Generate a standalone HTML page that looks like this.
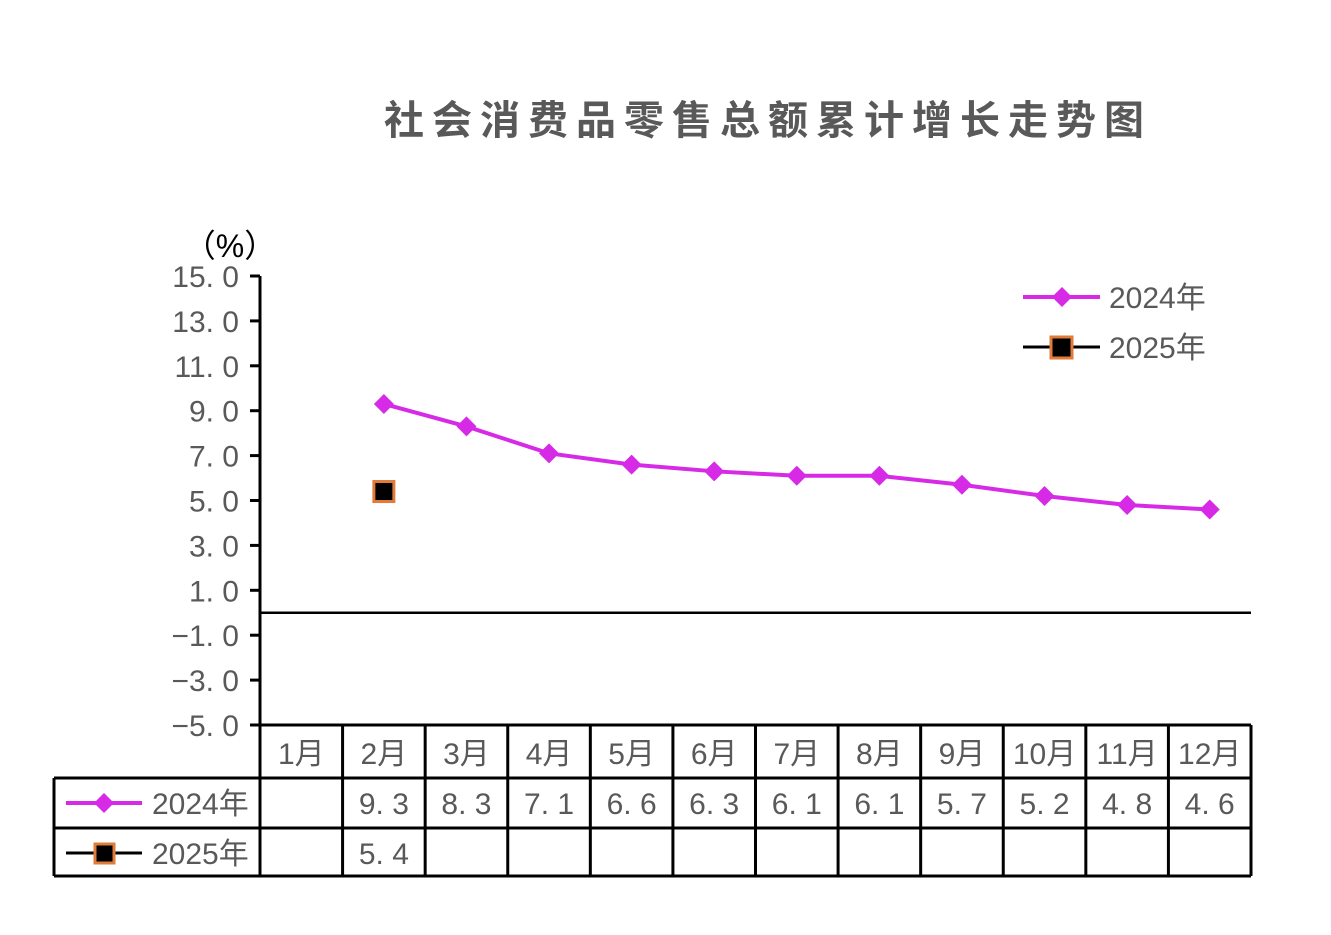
<!DOCTYPE html>
<html><head><meta charset="utf-8"><style>
html,body{margin:0;padding:0;background:#fff;}
svg{display:block;font-family:"Liberation Sans","Noto Sans CJK SC",sans-serif;}
</style></head><body>
<svg id="c" width="1331" height="935" xmlns="http://www.w3.org/2000/svg">
<text x="768" y="134" text-anchor="middle" font-size="40" font-weight="bold" fill="#595959" letter-spacing="8">社会消费品零售总额累计增长走势图</text>
<text x="230" y="257" text-anchor="middle" font-size="32" fill="#000">（%）</text>
<g id="axes"></g><g id="marks"></g><g id="table"></g>
<g>
<line x1="1023" y1="297" x2="1100" y2="297" stroke="#d62ae6" stroke-width="4"/>
<polygon points="1062,287 1072,297 1062,307 1052,297" fill="#d62ae6"/>
<text x="1109" y="308" font-size="30" fill="#595959">2024年</text>
<line x1="1023" y1="347" x2="1100" y2="347" stroke="#000" stroke-width="3"/>
<rect x="1051" y="337" width="21" height="21" fill="#000" stroke="#e07b39" stroke-width="3"/>
<text x="1109" y="358" font-size="30" fill="#595959">2025年</text>
</g>
</svg>
<script>
const months=["1月","2月","3月","4月","5月","6月","7月","8月","9月","10月","11月","12月"];
const s2024=[null,9.3,8.3,7.1,6.6,6.3,6.1,6.1,5.7,5.2,4.8,4.6];
const s2025=[null,5.4,null,null,null,null,null,null,null,null,null,null];
const yTicks=[15,13,11,9,7,5,3,1,-1,-3,-5];
const NS="http://www.w3.org/2000/svg";
const L=260,R=1251,T=276,B=725,yMin=-5,yMax=15;
const cw=(R-L)/months.length;
function x(i){return L+cw*(i+0.5);}
function y(v){return B-(v-yMin)/(yMax-yMin)*(B-T);}
function mk(t,a,p){const e=document.createElementNS(NS,t);for(const k in a)e.setAttribute(k,a[k]);p.appendChild(e);return e;}
function fmt(v){return v.toFixed(1).replace('-','−').replace('.','. ');}
const ax=document.getElementById('axes');
let e=mk('line',{x1:L,y1:T,x2:L,y2:B,stroke:'#000','stroke-width':3},ax);


yTicks.forEach(v=>{
 let t=mk('line',{x1:L-10,y1:y(v),x2:L,y2:y(v),stroke:'#000','stroke-width':3},ax);
 
 
 let l=mk('text',{x:L-21,y:y(v)+11,'text-anchor':'end','font-size':30,fill:'#595959'},ax);
 l.textContent=fmt(v);
 
 
});
e=mk('line',{x1:L,y1:y(0),x2:R,y2:y(0),stroke:'#000','stroke-width':2.5},ax);


const mg=document.getElementById('marks');
let pts=[];s2024.forEach((v,i)=>{if(v!==null)pts.push(x(i)+','+y(v));});
e=mk('polyline',{points:pts.join(' '),fill:'none',stroke:'#d62ae6','stroke-width':4},mg);


s2024.forEach((v,i)=>{if(v===null)return;const cx=x(i),cy=y(v);
 let p=mk('polygon',{points:`${cx},${cy-10} ${cx+10},${cy} ${cx},${cy+10} ${cx-10},${cy}`,fill:'#d62ae6'},mg);
 
 });
s2025.forEach((v,i)=>{if(v===null)return;const cx=x(i),cy=y(v);
 let p=mk('rect',{x:cx-10,y:cy-10,width:20,height:20,fill:'#000',stroke:'#e07b39','stroke-width':3},mg);
 
 });
const tg=document.getElementById('table');
const rows=[725,778,828,876],TL=54;
function ln(x1,y1,x2,y2){let l=mk('line',{x1,y1,x2,y2,stroke:'#000','stroke-width':3},tg);
 
 }
ln(L,rows[0],R,rows[0]);
ln(TL,rows[1],R,rows[1]);ln(TL,rows[2],R,rows[2]);ln(TL,rows[3],R,rows[3]);
ln(TL,rows[1],TL,rows[3]);
for(let i=0;i<=months.length;i++)ln(L+cw*i,rows[0],L+cw*i,rows[3]);
months.forEach((m,i)=>{
 let t=mk('text',{x:x(i),y:764,'text-anchor':'middle','font-size':30,fill:'#595959'},tg);t.textContent=m;
 
 
 [[s2024,814],[s2025,864]].forEach(([s,yy])=>{if(s[i]===null)return;
  let d=mk('text',{x:x(i),y:yy,'text-anchor':'middle','font-size':30,fill:'#595959'},tg);d.textContent=s[i].toFixed(1).replace('.','. ');
  
  });
});
e=mk('line',{x1:66,y1:803,x2:142,y2:803,stroke:'#d62ae6','stroke-width':4},tg);


e=mk('polygon',{points:'104,793 114,803 104,813 94,803',fill:'#d62ae6'},tg);


e=mk('text',{x:152,y:814,'font-size':30,fill:'#595959'},tg);e.textContent='2024年';


e=mk('line',{x1:66,y1:853,x2:142,y2:853,stroke:'#000','stroke-width':3},tg);


e=mk('rect',{x:95,y:844,width:19,height:19,fill:'#000',stroke:'#e07b39','stroke-width':3},tg);


e=mk('text',{x:152,y:864,'font-size':30,fill:'#595959'},tg);e.textContent='2025年';


</script>
</body></html>
